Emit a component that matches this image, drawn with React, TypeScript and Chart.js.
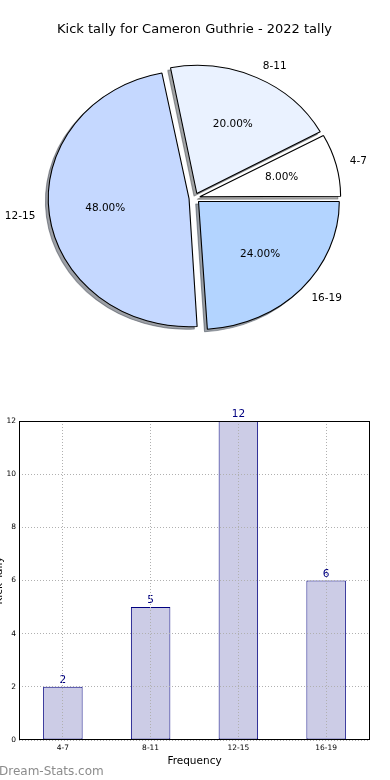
import React, { useEffect, useRef } from 'react';
import { Chart, registerables } from 'chart.js';

Chart.register(...registerables);

const TITLE = 'Kick tally for Cameron Guthrie - 2022 tally';
const categories = ['4-7', '8-11', '12-15', '16-19'];
const counts = [2, 5, 12, 6];
const pieColors = ['#ffffff', '#eaf2ff', '#c5d8ff', '#b3d4ff'];
const yTickMin = 0;
const yTickMax = 12;
const yTickStep = 2;
const X_TITLE = 'Frequency';
const Y_TITLE = 'Kick Tally';
const WATERMARK = 'Dream-Stats.com';

const FONT = "'DejaVu Sans', 'Liberation Sans', sans-serif";
const PIE_R = 128;
const X_STRETCH = 1.1;
const EXPLODE = 20; // chart.js offset (moves arc by offset/4)

function shadowOf(hex: string): string {
  const h = hex.replace('#', '');
  const r = parseInt(h.slice(0, 2), 16);
  const g = parseInt(h.slice(2, 4), 16);
  const b = parseInt(h.slice(4, 6), 16);
  return `rgba(${Math.round(r * 0.3)},${Math.round(g * 0.3)},${Math.round(b * 0.3)},0.5)`;
}

function stretch(ctx: CanvasRenderingContext2D, cx: number, cy: number) {
  ctx.translate(cx, cy);
  ctx.scale(X_STRETCH, 1);
  ctx.translate(-cx, -cy);
}

const piePlugin = {
  id: 'pieExtras',
  beforeDatasetsDraw(chart: any) {
    const ctx = chart.ctx;
    const meta = chart.getDatasetMeta(0);
    const first = meta.data[0];
    const cx = first.x;
    const cy = first.y;
    meta.data.forEach((el: any) => {
      const fix = 1 - Math.sin(Math.min(Math.PI, el.circumference || 0));
      el._origR = el.outerRadius;
      el.outerRadius = el.outerRadius - (EXPLODE / 4) * fix;
    });
    // shadow pass
    ctx.save();
    ctx.translate(-2.8, 2.6);
    stretch(ctx, cx, cy);
    meta.data.forEach((el: any) => {
      const o = el.options;
      const bg = o.backgroundColor;
      const bc = o.borderColor;
      const sc = shadowOf(bg);
      o.backgroundColor = sc;
      o.borderColor = sc;
      el.draw(ctx);
      o.backgroundColor = bg;
      o.borderColor = bc;
    });
    ctx.restore();
    ctx.save();
    stretch(ctx, cx, cy);
  },
  afterDatasetsDraw(chart: any) {
    const ctx = chart.ctx;
    ctx.restore();
    const meta = chart.getDatasetMeta(0);
    const labels = chart.data.labels;
    const values = chart.data.datasets[0].data as number[];
    const total = values.reduce((a: number, b: number) => a + b, 0);
    ctx.save();
    ctx.fillStyle = '#000';
    ctx.font = `10.5px ${FONT}`;
    ctx.textBaseline = 'middle';
    meta.data.forEach((el: any, i: number) => {
      el.outerRadius = el._origR;
      const mid = (el.startAngle + el.endAngle) / 2;
      const c = Math.cos(mid);
      const s = Math.sin(mid);
      const d = EXPLODE / 4;
      const R = el.outerRadius;
      const lx = el.x + c * (d + 1.1 * R) * X_STRETCH;
      const ly = el.y + s * (d + 1.1 * R);
      ctx.textAlign = c > 0 ? 'left' : 'right';
      ctx.fillText(String(labels[i]), lx, ly);
      const px = el.x + c * (d + 0.6 * R) * X_STRETCH;
      const py = el.y + s * (d + 0.6 * R);
      ctx.textAlign = 'center';
      ctx.fillText(((values[i] / total) * 100).toFixed(2) + '%', px, py);
    });
    ctx.restore();
  },
};

const barPlugin = {
  id: 'barExtras',
  afterDatasetsDraw(chart: any) {
    const ctx = chart.ctx;
    const meta = chart.getDatasetMeta(0);
    const values = chart.data.datasets[0].data as number[];
    ctx.save();
    ctx.fillStyle = '#000080';
    ctx.font = `10.5px ${FONT}`;
    ctx.textAlign = 'center';
    ctx.textBaseline = 'alphabetic';
    meta.data.forEach((bar: any, i: number) => {
      ctx.fillText(String(values[i]), bar.x, bar.y - 4);
    });
    ctx.restore();
  },
  afterDraw(chart: any) {
    const { ctx, chartArea } = chart;
    ctx.save();
    ctx.strokeStyle = '#000';
    ctx.lineWidth = 1;
    const l = Math.round(chartArea.left) + 0.5;
    const t = Math.round(chartArea.top) + 0.5;
    const r = Math.round(chartArea.right) - 0.5;
    const b = Math.round(chartArea.bottom) - 0.5;
    ctx.strokeRect(l, t, r - l, b - t);
    ctx.restore();
  },
};

export default function App() {
  const pieRef = useRef<HTMLCanvasElement>(null);
  const barRef = useRef<HTMLCanvasElement>(null);

  useEffect(() => {
    Chart.defaults.font.family = FONT;
    Chart.defaults.color = '#000';

    const pieLabels = [...categories].reverse();
    const pieValues = [...counts].reverse();
    const pieBg = [...pieColors].reverse();

    const pie = new Chart(pieRef.current!, {
      type: 'pie',
      data: {
        labels: pieLabels,
        datasets: [
          {
            data: pieValues,
            backgroundColor: pieBg,
            borderColor: '#000',
            borderWidth: 1,
            offset: EXPLODE,
            hoverOffset: 0,
            clip: false as any,
          } as any,
        ],
      },
      options: {
        responsive: false,
        animation: false,
        rotation: 90,
        radius: PIE_R,
        layout: { padding: { top: 0, bottom: 21.6, left: 0, right: 1 } },
        plugins: {
          legend: { display: false },
          tooltip: { enabled: false },
          title: {
            display: true,
            text: TITLE,
            color: '#000',
            font: { size: 13, weight: 'normal', family: FONT },
            padding: { top: 22, bottom: 0 },
          },
        },
        events: [],
      } as any,
      plugins: [piePlugin],
    });

    const bar = new Chart(barRef.current!, {
      type: 'bar',
      data: {
        labels: categories,
        datasets: [
          {
            data: counts,
            backgroundColor: '#ccccE6',
            borderColor: '#000080',
            borderWidth: 1,
            borderSkipped: false,
            categoryPercentage: 1,
            barPercentage: 0.45,
          },
        ],
      },
      options: {
        responsive: false,
        animation: false,
        events: [],
        layout: { padding: { top: 41, right: 20, left: 0, bottom: 0 } },
        plugins: {
          legend: { display: false },
          tooltip: { enabled: false },
        },
        scales: {
          x: {
            type: 'category',
            offset: true,
            grid: {
              offset: false,
              color: '#b0b0b0',
              lineWidth: 1,
              drawTicks: false,
              z: 1,
            },
            border: { display: false, dash: [1, 2] },
            ticks: { font: { size: 7.5, family: FONT }, color: '#000', padding: 4 },
            title: {
              display: true,
              text: X_TITLE,
              color: '#000',
              font: { size: 10.5, family: FONT },
              padding: { top: 0, bottom: 12.4 },
            },
            afterFit(scale: any) {
              scale.height = 40;
            },
          },
          y: {
            min: yTickMin,
            max: yTickMax,
            ticks: {
              stepSize: yTickStep,
              font: { size: 7.5, family: FONT },
              color: '#000',
              padding: 3,
            },
            grid: {
              color: '#b0b0b0',
              lineWidth: 1,
              drawTicks: false,
              z: 1,
            },
            border: { display: false, dash: [1, 2] },
            title: {
              display: true,
              text: Y_TITLE,
              color: '#000',
              font: { size: 10.5, family: FONT },
              padding: { top: -7.3, bottom: 0 },
            },
            afterFit(scale: any) {
              scale.width = 19;
            },
          },
        },
      } as any,
      plugins: [barPlugin],
    });

    return () => {
      pie.destroy();
      bar.destroy();
    };
  }, []);

  return (
    <div
      style={{
        position: 'absolute',
        left: 0,
        top: 0,
        width: 390,
        height: 780,
        background: '#fff',
        overflow: 'hidden',
      }}
    >
      <canvas
        ref={pieRef}
        width={390}
        height={380}
        style={{ position: 'absolute', left: 0, top: 0, display: 'block' }}
      />
      <canvas
        ref={barRef}
        width={390}
        height={400}
        style={{ position: 'absolute', left: 0, top: 380, display: 'block' }}
      />
      <div
        style={{
          position: 'absolute',
          left: -1,
          top: 763,
          fontFamily: FONT,
          fontSize: 12,
          fontWeight: 'normal',
          color: '#8c8c8c',
          lineHeight: '16px',
          whiteSpace: 'nowrap',
        }}
      >
        {WATERMARK}
      </div>
    </div>
  );
}
